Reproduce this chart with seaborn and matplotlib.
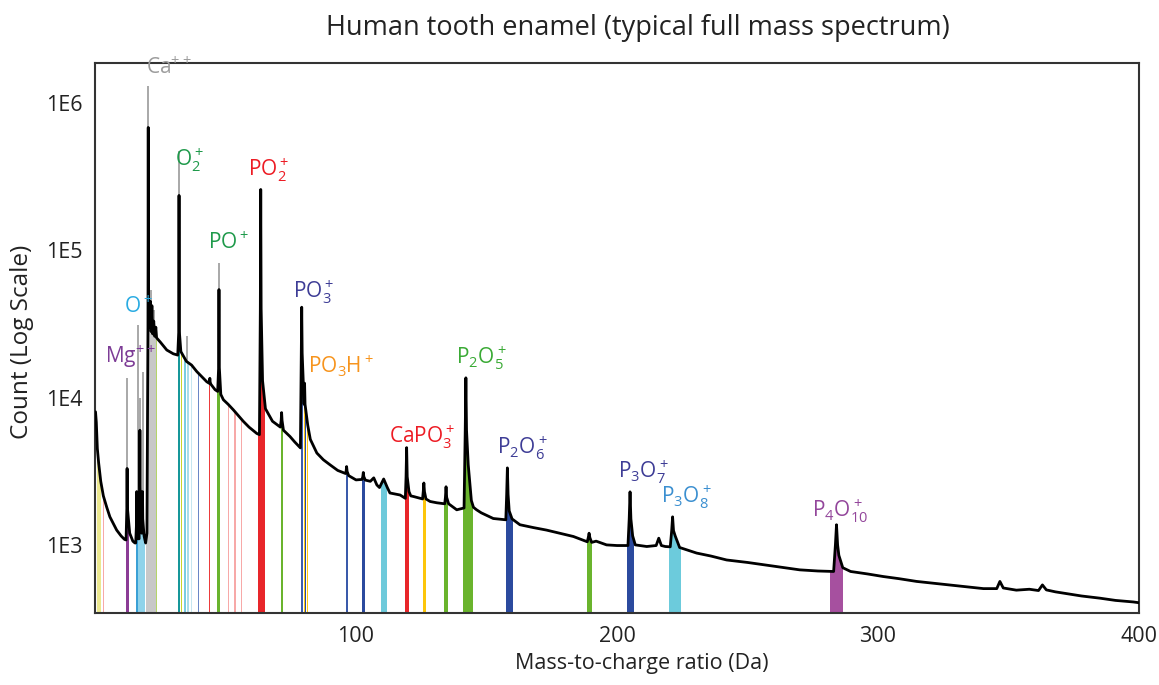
import numpy as np
import pandas as pd
import matplotlib
matplotlib.use('Agg')
import matplotlib.pyplot as plt
from matplotlib.patches import Polygon
from matplotlib.ticker import FixedLocator, LogLocator, NullFormatter
import seaborn as sns

sns.set_style('white')
plt.rcParams['font.family'] = ['Open Sans', 'DejaVu Sans']
plt.rcParams['mathtext.fontset'] = 'custom'
plt.rcParams['mathtext.rm'] = 'Open Sans'

# background of the spectrum (m/z, counts)
bg_mz = [0.2, 0.5, 0.9, 1.4, 2.2, 3.2, 4.5, 5.7, 7.0, 8.3, 10.0, 11.3, 11.9, 13.3, 14.5,
         15.3, 15.6, 16.5, 16.9, 17.7, 17.9, 18.8, 19.4, 19.9, 20.9, 21.2, 21.5, 21.8, 22.1,
         22.5, 22.9, 23.3, 23.6, 25.0, 27.5, 30.0, 31.7, 32.9, 35.0, 37.0, 39.0, 42.8, 43.7,
         44.4, 46.0, 47.0, 48.2, 49.2, 51.0, 53.0, 55.0, 56.8, 59.0, 62.0, 63.0, 64.2, 65.3,
         68.0, 71.0, 72.2, 74.7, 76.5, 78.7, 81.5, 82.5, 85.0, 87.5, 90.0, 93.0, 96.0, 97.2,
         100.0, 102.3, 103.6, 105.5, 106.8, 108.0, 109.0, 110.6, 112.0, 113.0, 116.9, 118.9,
         120.3, 121.0, 122.0, 125.5, 126.8, 128.4, 131.0, 134.0, 135.5, 138.6, 141.4, 143.0,
         144.2, 145.0, 146.2, 148.0, 152.6, 157.4, 158.7, 159.8, 162.8, 168.0, 173.0, 178.0,
         183.3, 188.6, 190.3, 192.0, 196.0, 200.0, 204.2, 206.0, 207.0, 211.4, 215.0, 216.0,
         217.0, 218.5, 220.4, 222.3, 224.0, 230.5, 236.0, 242.0, 250.0, 257.0, 263.0, 270.0,
         277.0, 283.0, 285.0, 286.5, 289.5, 296.0, 302.0, 308.0, 314.8, 321.0, 327.6, 334.0,
         340.4, 345.5, 346.7, 348.0, 353.0, 358.0, 361.5, 363.0, 364.5, 368.0, 372.0, 378.0,
         385.0, 391.0, 397.8, 400.0]
bg_count = [8000, 6800, 4500, 3600, 2700, 2150, 1800, 1550, 1400, 1260, 1150, 1090, 1080, 1200, 1060,
            1030, 1030, 1100, 1100, 1300, 1200, 1150, 1030, 1200, 30000, 45000, 28000, 42000, 27000,
            33000, 26000, 30000, 25400, 23800, 21000, 19800, 19400, 20500, 17600, 16600, 15000, 12800, 12500,
            12300, 11300, 11000, 10500, 9650, 9000, 8250, 7500, 6900, 6300, 5700, 5600, 13000, 8400,
            6900, 6300, 6000, 5440, 5000, 4550, 6500, 5200, 4200, 3780, 3500, 3200, 3050, 2950,
            2760, 2780, 2750, 2700, 2850, 2550, 2450, 2800, 2450, 2250, 2180, 2070,
            2300, 2150, 2130, 2050, 2050, 1970, 1930, 1900, 1900, 1730, 1780, 3500,
            2000, 1800, 1730, 1650, 1510, 1480, 1700, 1500, 1370, 1310, 1260, 1200,
            1140, 1050, 1040, 1060, 1000, 990, 990, 1150, 1000, 975, 990, 1110,
            990, 975, 970, 1150, 960, 880, 840, 790, 760, 730, 705, 677,
            665, 660, 850, 700, 660, 635, 610, 590, 565, 550, 535, 520,
            505, 505, 565, 510, 493, 500, 490, 535, 495, 480, 468, 450,
            435, 420, 410, 405]

# peaks: position, apex and shoulder counts
pk_mz = [12.3, 16.0, 17.2, 18.2, 20.4, 32.2, 44.0, 47.5, 63.5, 71.5, 79.2, 80.3, 96.4,
         102.8, 119.4, 126.0, 134.5, 142.1, 158.0, 189.3, 205.0, 221.3, 284.1]
pk_top = [3300, 2300, 6000, 2300, 680000, 235000, 13500, 54000, 258000, 7900, 41000, 12500, 3400,
          3100, 4570, 2630, 2480, 13600, 3330, 1200, 2290, 1550, 1370]
pk_mid = [1800, 1400, 2500, 1500, 30000, 28000, 12700, 16000, 40000, 7000, 20000, 9000, 3150,
          2900, 2900, 2300, 2100, 6000, 2200, 1120, 1500, 1250, 1000]

# grey tips above the tall peaks
gray_mz = [12.3, 16.3, 17.2, 18.5, 20.4, 20.8, 21.6, 22.6, 32.2, 35.2, 47.5]
gray_lo = [3300, 1100, 6000, 1300, 680000, 30000, 30000, 30000, 235000, 17500, 54000]
gray_top = [13600, 31000, 10000, 15000, 1300000, 63000, 54000, 39000, 470000, 26000, 82000]

# coloured ranging windows
band_lo = [0.8, 2.9, 12.0, 15.6, 16.6, 19.7, 23.4, 31.8, 32.8, 34.1, 35.4, 36.7, 39.3, 43.7,
           46.9, 50.8, 53.4, 56.0, 62.6, 71.2, 78.9, 79.9, 80.4, 81.1, 96.0, 102.2, 109.6,
           118.8, 125.5, 133.8, 140.9, 157.5, 188.4, 203.7, 220.0, 281.6]
band_hi = [2.2, 3.5, 13.2, 16.4, 19.2, 23.4, 23.9, 32.6, 33.4, 34.7, 36.0, 37.2, 39.9, 44.2,
           47.9, 51.3, 53.9, 56.5, 65.3, 71.9, 79.7, 80.4, 80.9, 81.8, 96.8, 103.4, 112.0,
           120.3, 126.8, 135.4, 144.7, 160.0, 190.3, 206.5, 224.5, 286.5]
band_color = ['#ebe78f', '#f7a9a8', '#8b3c95', '#3aa0d5', '#8fd3ea', '#c8c8c8', '#b5d56a',
              '#16979a', '#c9d42b', '#79cde0', '#a8dcea', '#c6e6f0', '#6b86c6', '#ec3b3b',
              '#69b42e', '#f7a9a8', '#f7a9a8', '#f7a9a8', '#e8262a', '#6ab42d', '#3d5db0',
              '#fdc812', '#2b4a9e', '#fdc812', '#3a5aaa', '#2b4a9e', '#6ecadb', '#e8262a',
              '#fdc60b', '#6ab42d', '#6ab42d', '#2b4a9e', '#6ab42d', '#2b4a9e', '#6ccbdc',
              '#a6509f']

# ion labels
ion_text = [r'$\mathregular{Ca^{++}}$', r'$\mathregular{O_2^+}$', r'$\mathregular{PO_2^+}$',
            r'$\mathregular{PO^+}$', r'$\mathregular{PO_3^+}$', r'$\mathregular{O^+}$',
            r'$\mathregular{Mg^{++}}$', r'$\mathregular{PO_3H^+}$', r'$\mathregular{P_2O_5^+}$',
            r'$\mathregular{CaPO_3^+}$', r'$\mathregular{P_2O_6^+}$', r'$\mathregular{P_3O_7^+}$',
            r'$\mathregular{P_3O_8^+}$', r'$\mathregular{P_4O_{10}^+}$']
ion_x = [19.5, 30.7, 58.6, 43.3, 75.9, 11.1, 3.8, 81.6, 138.3, 112.6, 154.0, 200.4, 216.9, 274.7]
ion_y = [1.72e6, 4.1e5, 3.5e5, 1.12e5, 5.2e4, 4.1e4, 1.9e4, 1.62e4, 1.86e4, 5400, 4560, 3130, 2120, 1700]
ion_color = ['#9d9d9d', '#1f9a4b', '#ed1c24', '#1f9a4b', '#3e3d96', '#29abe2', '#7d3c96',
             '#f7941d', '#3aaa35', '#ed1c24', '#3e3d96', '#3e3d96', '#3b8fd0', '#93469b']

pk_mz = np.array(pk_mz)
w = 0.08 + 0.0012 * pk_mz
spec = pd.DataFrame({
    'mz': np.concatenate([bg_mz, pk_mz - w, pk_mz, pk_mz + w]),
    'count': np.concatenate([bg_count, pk_mid, pk_top, pk_mid]),
}).sort_values('mz').reset_index(drop=True)

fig = plt.figure(figsize=(11.59, 6.85), dpi=100)
ax = fig.add_axes([95 / 1159, 72 / 685, 1044 / 1159, 550.3 / 685])
ax.set_yscale('log')
ax.set_xlim(0, 400)
ax.set_ylim(345, 1.87e6)

# area under the curve, used to clip the coloured windows
verts = [(spec['mz'].iloc[0], 1)] + list(zip(spec['mz'], spec['count'])) + [(spec['mz'].iloc[-1], 1)]
under = Polygon(verts, closed=True, facecolor='none', edgecolor='none', transform=ax.transData)
ax.add_patch(under)
for lo, hi, c in zip(band_lo, band_hi, band_color):
    span = ax.axvspan(lo, hi, color=c, lw=0, zorder=2)
    span.set_clip_path(under)

ax.vlines(gray_mz, gray_lo, gray_top, colors='#a8a8a8', lw=1.4, zorder=1.5)

sns.lineplot(data=spec, x='mz', y='count', color='black', lw=2.0, estimator=None,
             sort=False, ax=ax, zorder=3)

for t, x, y, c in zip(ion_text, ion_x, ion_y, ion_color):
    ax.text(x, y, t, color=c, fontsize=15, ha='left', va='center', zorder=4)

ax.yaxis.set_major_locator(FixedLocator([1e3, 1e4, 1e5, 1e6]))
ax.set_yticklabels(['1E3', '1E4', '1E5', '1E6'])
ax.yaxis.set_minor_locator(LogLocator(base=10, subs=np.arange(2, 10)))
ax.yaxis.set_minor_formatter(NullFormatter())
ax.set_xticks([0, 100, 200, 300, 400], ['', '100', '200', '300', '400'])
ax.set_xticks([50, 150, 250, 350], minor=True)
ax.tick_params(axis='both', which='major', direction='out', length=4, width=1,
               color='#333333', labelsize=15.5, labelcolor='#222222', pad=5)
ax.tick_params(axis='y', which='minor', direction='out', length=2, width=0.8, color='#555555')
ax.tick_params(axis='x', which='minor', direction='out', length=4, width=1, color='#333333')
ax.set_xlabel('')
ax.set_ylabel('')
for s in ax.spines.values():
    s.set_color('#333333')
    s.set_linewidth(1.5)

fig.text(638 / 1159, 1 - 28 / 685, 'Human tooth enamel (typical full mass spectrum)',
         ha='center', va='center', fontsize=19.5, color='#222222')
fig.text(642 / 1159, 1 - 663 / 685, 'Mass-to-charge ratio (Da)',
         ha='center', va='center', fontsize=15.5, color='#222222')
fig.text(22 / 1159, 1 - 342 / 685, 'Count (Log Scale)', rotation=90,
         ha='center', va='center', fontsize=17.5, color='#222222')

fig.savefig('out.png', dpi=100)
